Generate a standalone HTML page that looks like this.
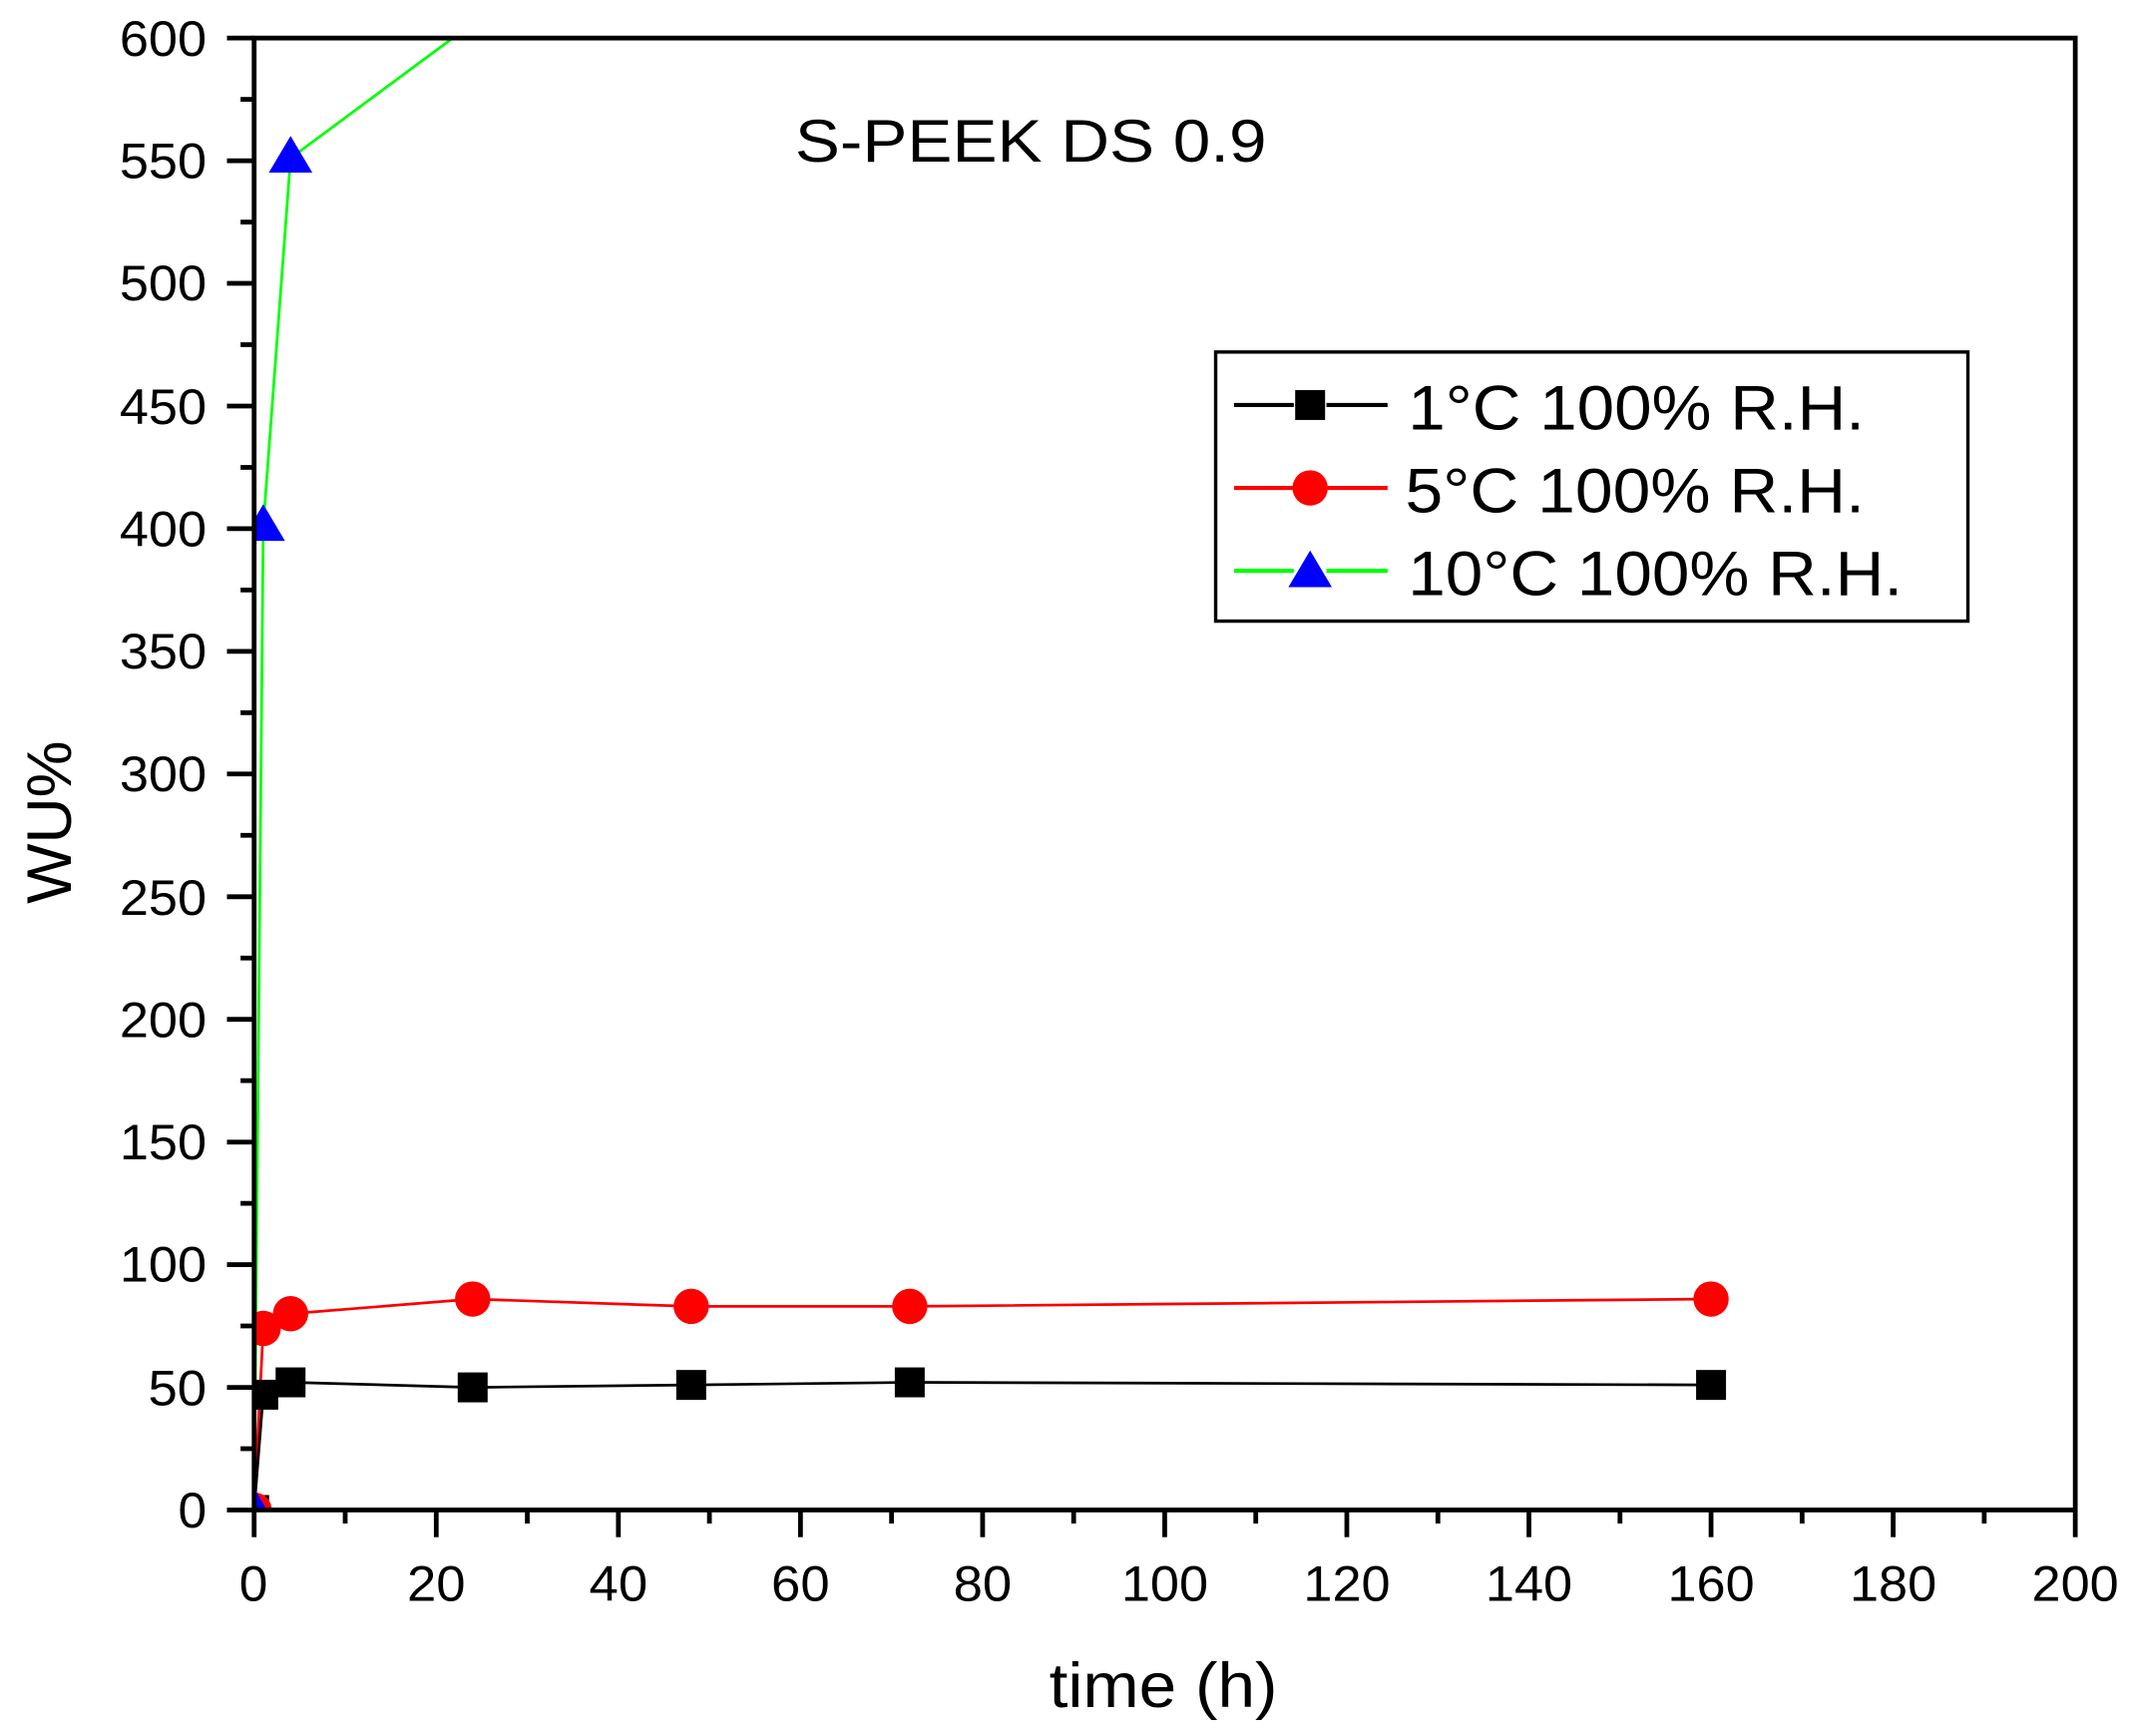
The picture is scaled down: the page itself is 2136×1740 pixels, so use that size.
<!DOCTYPE html>
<html><head><meta charset="utf-8"><style>html,body{margin:0;padding:0;background:#fff}svg{display:block}</style></head>
<body>
<svg width="2136" height="1740" viewBox="0 0 1568 1277.3" xmlns="http://www.w3.org/2000/svg" font-family="Liberation Sans, Arial, sans-serif">
<rect width="1568" height="1278" fill="#fff"/>
<defs><clipPath id="c"><rect x="187" y="28" width="1340" height="1083"/></clipPath></defs>
<g clip-path="url(#c)">
<polyline fill="none" stroke="#00ff00" stroke-width="2" points="187,1111 193.7,387.2 213.8,116.4 400,-21.5"/>
<polyline fill="none" stroke="#ff0000" stroke-width="2" points="187,1111 193.7,977.4 213.8,966.6 347.8,955.8 508.6,961.2 669.4,961.2 1259,955.8"/>
<polyline fill="none" stroke="#000" stroke-width="2" points="187,1111 193.7,1026.2 213.8,1017.1 347.8,1020.8 508.6,1019 669.4,1017.1 1259,1019"/>
<g fill="#000">
<rect x="176" y="1100" width="22" height="22"/><rect x="182.7" y="1015.2" width="22" height="22"/><rect x="202.8" y="1006.1" width="22" height="22"/><rect x="336.8" y="1009.8" width="22" height="22"/><rect x="497.6" y="1008" width="22" height="22"/><rect x="658.4" y="1006.1" width="22" height="22"/><rect x="1248" y="1008" width="22" height="22"/>
</g>
<g fill="#ff0000">
<circle cx="187" cy="1111" r="13"/><circle cx="193.7" cy="977.4" r="13"/><circle cx="213.8" cy="966.6" r="13"/><circle cx="347.8" cy="955.8" r="13"/><circle cx="508.6" cy="961.2" r="13"/><circle cx="669.4" cy="961.2" r="13"/><circle cx="1259" cy="955.8" r="13"/>
</g>
<g fill="#0000ff">
<polygon points="187,1095 203,1122 171,1122"/><polygon points="193.7,371 209.7,398 177.7,398"/><polygon points="213.8,100 229.8,127 197.8,127"/>
</g>
</g>
<g stroke="#000" stroke-width="3.5" fill="none">
<rect x="187" y="28" width="1340" height="1083"/>
</g>
<g stroke="#000" stroke-width="3.5">
<line x1="187" y1="1111" x2="187" y2="1131"/><line x1="321" y1="1111" x2="321" y2="1131"/><line x1="455" y1="1111" x2="455" y2="1131"/><line x1="589" y1="1111" x2="589" y2="1131"/><line x1="723" y1="1111" x2="723" y2="1131"/><line x1="857" y1="1111" x2="857" y2="1131"/><line x1="991" y1="1111" x2="991" y2="1131"/><line x1="1125" y1="1111" x2="1125" y2="1131"/><line x1="1259" y1="1111" x2="1259" y2="1131"/><line x1="1393" y1="1111" x2="1393" y2="1131"/><line x1="1527" y1="1111" x2="1527" y2="1131"/>
<line x1="254" y1="1111" x2="254" y2="1121"/><line x1="388" y1="1111" x2="388" y2="1121"/><line x1="522" y1="1111" x2="522" y2="1121"/><line x1="656" y1="1111" x2="656" y2="1121"/><line x1="790" y1="1111" x2="790" y2="1121"/><line x1="924" y1="1111" x2="924" y2="1121"/><line x1="1058" y1="1111" x2="1058" y2="1121"/><line x1="1192" y1="1111" x2="1192" y2="1121"/><line x1="1326" y1="1111" x2="1326" y2="1121"/><line x1="1460" y1="1111" x2="1460" y2="1121"/>
<line x1="167" y1="1111" x2="187" y2="1111"/><line x1="167" y1="1020.8" x2="187" y2="1020.8"/><line x1="167" y1="930.5" x2="187" y2="930.5"/><line x1="167" y1="840.3" x2="187" y2="840.3"/><line x1="167" y1="750" x2="187" y2="750"/><line x1="167" y1="659.8" x2="187" y2="659.8"/><line x1="167" y1="569.5" x2="187" y2="569.5"/><line x1="167" y1="479.3" x2="187" y2="479.3"/><line x1="167" y1="389" x2="187" y2="389"/><line x1="167" y1="298.8" x2="187" y2="298.8"/><line x1="167" y1="208.5" x2="187" y2="208.5"/><line x1="167" y1="118.3" x2="187" y2="118.3"/><line x1="167" y1="28" x2="187" y2="28"/>
<line x1="177" y1="1065.9" x2="187" y2="1065.9"/><line x1="177" y1="975.6" x2="187" y2="975.6"/><line x1="177" y1="885.4" x2="187" y2="885.4"/><line x1="177" y1="795.1" x2="187" y2="795.1"/><line x1="177" y1="704.9" x2="187" y2="704.9"/><line x1="177" y1="614.6" x2="187" y2="614.6"/><line x1="177" y1="524.4" x2="187" y2="524.4"/><line x1="177" y1="434.1" x2="187" y2="434.1"/><line x1="177" y1="343.9" x2="187" y2="343.9"/><line x1="177" y1="253.6" x2="187" y2="253.6"/><line x1="177" y1="163.4" x2="187" y2="163.4"/><line x1="177" y1="73.1" x2="187" y2="73.1"/>
</g>
<g font-size="37" fill="#000">
<text lengthAdjust="spacingAndGlyphs" x="176" y="1178" textLength="21">0</text><text lengthAdjust="spacingAndGlyphs" x="299.5" y="1178" textLength="43">20</text><text lengthAdjust="spacingAndGlyphs" x="433.5" y="1178" textLength="43">40</text><text lengthAdjust="spacingAndGlyphs" x="567.5" y="1178" textLength="43">60</text><text lengthAdjust="spacingAndGlyphs" x="701.5" y="1178" textLength="43">80</text><text lengthAdjust="spacingAndGlyphs" x="825" y="1178" textLength="64">100</text><text lengthAdjust="spacingAndGlyphs" x="959" y="1178" textLength="64">120</text><text lengthAdjust="spacingAndGlyphs" x="1093" y="1178" textLength="64">140</text><text lengthAdjust="spacingAndGlyphs" x="1227" y="1178" textLength="64">160</text><text lengthAdjust="spacingAndGlyphs" x="1361" y="1178" textLength="64">180</text><text lengthAdjust="spacingAndGlyphs" x="1495" y="1178" textLength="64">200</text>
<text lengthAdjust="spacingAndGlyphs" x="131" y="1124" textLength="21">0</text><text lengthAdjust="spacingAndGlyphs" x="109" y="1034" textLength="43">50</text><text lengthAdjust="spacingAndGlyphs" x="88" y="943" textLength="64">100</text><text lengthAdjust="spacingAndGlyphs" x="88" y="853" textLength="64">150</text><text lengthAdjust="spacingAndGlyphs" x="88" y="763" textLength="64">200</text><text lengthAdjust="spacingAndGlyphs" x="88" y="673" textLength="64">250</text><text lengthAdjust="spacingAndGlyphs" x="88" y="582" textLength="64">300</text><text lengthAdjust="spacingAndGlyphs" x="88" y="492" textLength="64">350</text><text lengthAdjust="spacingAndGlyphs" x="88" y="402" textLength="64">400</text><text lengthAdjust="spacingAndGlyphs" x="88" y="312" textLength="64">450</text><text lengthAdjust="spacingAndGlyphs" x="88" y="221" textLength="64">500</text><text lengthAdjust="spacingAndGlyphs" x="88" y="131" textLength="64">550</text><text lengthAdjust="spacingAndGlyphs" x="88" y="41" textLength="64">600</text>
</g>
<text x="772" y="1256" font-size="46" textLength="168" lengthAdjust="spacingAndGlyphs">time (h)</text>
<text transform="translate(52,665) rotate(-90)" font-size="46" textLength="120" lengthAdjust="spacingAndGlyphs">WU%</text>
<text x="585" y="119" font-size="44" textLength="347" lengthAdjust="spacingAndGlyphs">S-PEEK DS 0.9</text>
<rect x="894.5" y="259" width="553.5" height="198" fill="#fff" stroke="#000" stroke-width="2.5"/>
<g stroke-width="3">
<line x1="908" y1="298" x2="952" y2="298" stroke="#000"/><line x1="976" y1="298" x2="1021" y2="298" stroke="#000"/>
<line x1="908" y1="359" x2="952" y2="359" stroke="#f00"/><line x1="976" y1="359" x2="1021" y2="359" stroke="#f00"/>
<line x1="908" y1="420" x2="952" y2="420" stroke="#0f0"/><line x1="976" y1="420" x2="1021" y2="420" stroke="#0f0"/>
</g>
<rect x="953" y="287" width="22" height="22" fill="#000"/>
<circle cx="964" cy="359" r="13" fill="#f00"/>
<polygon points="964,405 980,432 948,432" fill="#00f"/>
<g font-size="46" fill="#000">
<text lengthAdjust="spacingAndGlyphs" x="1036" y="316" textLength="336">1°C 100% R.H.</text><text lengthAdjust="spacingAndGlyphs" x="1034" y="377" textLength="338">5°C 100% R.H.</text><text lengthAdjust="spacingAndGlyphs" x="1036" y="438" textLength="364">10°C 100% R.H.</text>
</g>
</svg>
</body></html>
